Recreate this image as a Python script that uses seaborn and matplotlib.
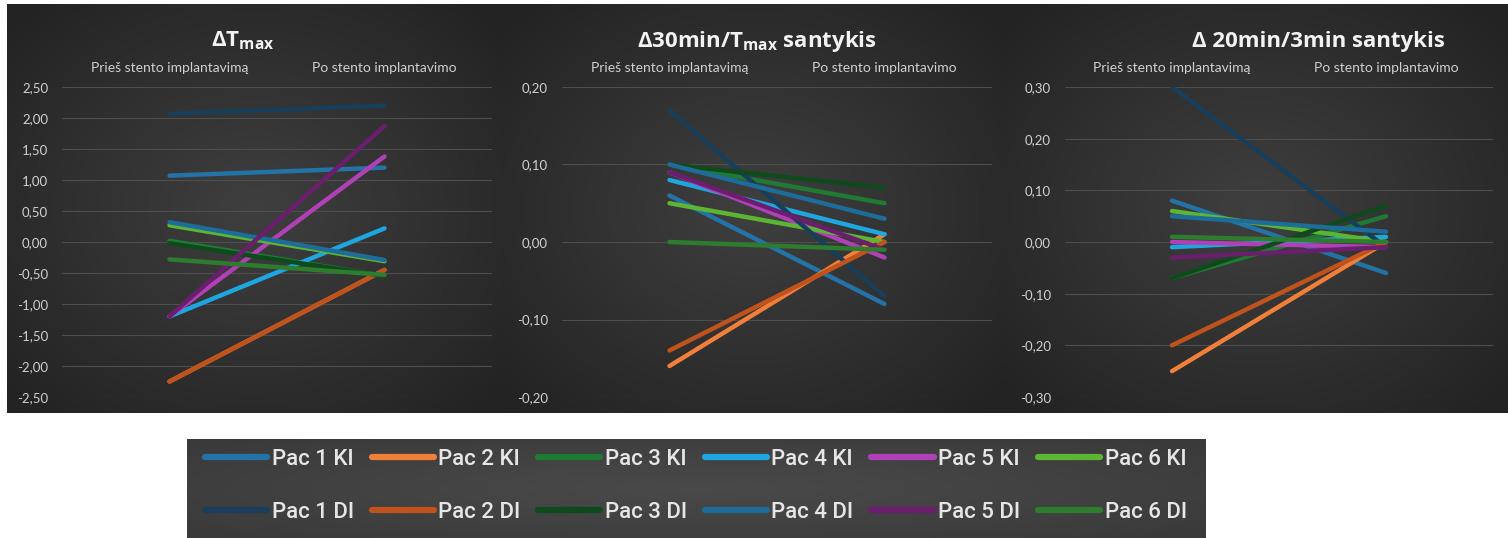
import numpy as np
import pandas as pd
import matplotlib
matplotlib.use("Agg")
import matplotlib.pyplot as plt
import seaborn as sns
from matplotlib.colors import to_rgb
from matplotlib.lines import Line2D
from matplotlib.ticker import FuncFormatter

# categories and series
stages = ["Prieš stento implantavimą", "Po stento implantavimo"]
series = ["Pac 1 KI", "Pac 2 KI", "Pac 3 KI", "Pac 4 KI", "Pac 5 KI", "Pac 6 KI",
          "Pac 1 DI", "Pac 2 DI", "Pac 3 DI", "Pac 4 DI", "Pac 5 DI", "Pac 6 DI"]
colors = ["#2473a6", "#f07f3a", "#1f7a34", "#1ea6e0", "#b040b6", "#5cb533",
          "#173e5a", "#c0521c", "#0f4a1d", "#1d6c9a", "#6b1e6e", "#2e7c2e"]

# values (before, after)
tmax_before = [1.07, -2.25, 0.02, -1.20, -1.20, 0.27, 2.07, -2.25, -0.02, 0.32, -1.20, -0.28]
tmax_after = [1.20, -0.45, -0.55, 0.22, 1.38, -0.31, 2.20, -0.45, -0.55, -0.29, 1.87, -0.53]
r30_before = [0.06, -0.16, 0.10, 0.08, 0.09, 0.05, 0.17, -0.14, 0.10, 0.10, 0.09, 0.00]
r30_after = [-0.08, 0.01, 0.05, 0.01, -0.02, 0.00, -0.07, 0.00, 0.07, 0.03, -0.01, -0.01]
r20_before = [0.08, -0.25, -0.07, -0.01, 0.00, 0.06, 0.30, -0.20, -0.07, 0.05, -0.03, 0.01]
r20_after = [-0.06, 0.00, 0.05, 0.01, -0.01, 0.00, -0.01, 0.00, 0.07, 0.02, -0.01, 0.00]

titles = [r"ΔT$_\mathregular{max}$",
          r"Δ30min/T$_\mathregular{max}$ santykis",
          "Δ 20min/3min santykis"]
y_limits = [2.5, 0.2, 0.3]
y_steps = [0.5, 0.1, 0.1]

W, H = 1508, 538
FONT = ["Lato", "DejaVu Sans"]
TITLE_FONT = ["Open Sans", "DejaVu Sans"]
LEGEND_FONT = ["Roboto", "DejaVu Sans"]


def fig_rect(x0, y0, x1, y1):
    return [x0 / W, 1 - y1 / H, (x1 - x0) / W, (y1 - y0) / H]


def gradient_bg(fig, rect, inner, outer):
    """Radial gradient background like the Excel dark chart style"""
    bg = fig.add_axes(rect, zorder=0)
    yy, xx = np.mgrid[-1:1:200j, -1:1:300j]
    r = np.clip(np.sqrt(xx ** 2 + yy ** 2) / 1.35, 0, 1)[..., None]
    img = np.array(to_rgb(inner)) * (1 - r) + np.array(to_rgb(outer)) * r
    bg.imshow(img, aspect="auto", extent=[0, 1, 0, 1], interpolation="bilinear")
    bg.set_axis_off()
    return bg


def comma_fmt(v, pos):
    if abs(v) < 1e-9:
        v = 0.0
    return f"{v:.2f}".replace(".", ",")


sns.set_theme(style="dark")
plt.rcParams["font.family"] = FONT

fig = plt.figure(figsize=(W / 100, H / 100), dpi=100)
fig.patch.set_facecolor("white")

palette = dict(zip(series, colors))
panel_data = [(tmax_before, tmax_after), (r30_before, r30_after), (r20_before, r20_after)]
bg_spans = [(7, 503), (503, 1003), (1003, 1508)]
ax_spans = [(62, 492), (562, 992), (1065, 1493)]
title_x = [243, 757, 1318]

for i, (before, after) in enumerate(panel_data):
    gradient_bg(fig, fig_rect(bg_spans[i][0], 4, bg_spans[i][1], 413), "#3f3f3f", "#232323")

    df = pd.DataFrame({
        "series": series * 2,
        "pos": [0] * len(series) + [1] * len(series),
        "value": list(before) + list(after),
    })

    ax = fig.add_axes(fig_rect(ax_spans[i][0], 87, ax_spans[i][1], 397), zorder=1)
    ax.set_facecolor("none")
    sns.lineplot(data=df, x="pos", y="value", hue="series", hue_order=series,
                 palette=palette, linewidth=3.2, solid_capstyle="round",
                 errorbar=None, legend=False, ax=ax)

    lim, step = y_limits[i], y_steps[i]
    ax.set_xlim(-0.5, 1.5)
    ax.set_ylim(-lim, lim)
    ax.set_yticks(np.arange(-lim, lim + step / 2, step))
    ax.yaxis.set_major_formatter(FuncFormatter(comma_fmt))
    ax.set_xticks([0, 1])
    ax.set_xticklabels(stages)
    ax.xaxis.tick_top()
    ax.tick_params(axis="x", length=0, pad=9, labelsize=10, labelcolor="#d0d0d0")
    ax.tick_params(axis="y", length=0, pad=10, labelsize=9.5, labelcolor="#d0d0d0")
    ax.set_xlabel("")
    ax.set_ylabel("")
    ax.grid(False)
    ax.yaxis.grid(True, color="#4e4e4e", linewidth=0.8)
    ax.set_axisbelow(True)
    for sp in ax.spines.values():
        sp.set_visible(False)

    fig.text(title_x[i] / W, 1 - 41 / H, titles[i], ha="center", va="center",
             fontsize=16, fontweight="bold", color="#f2f2f2", family=TITLE_FONT)

# legend box underneath
gradient_bg(fig, fig_rect(187, 439, 1206, 538), "#4a4a4a", "#3a3a3a")
handles = []
labels = []
for k in range(6):
    for j in (k, k + 6):
        handles.append(Line2D([], [], color=colors[j], linewidth=4.5, solid_capstyle="round"))
        labels.append(series[j])
leg = fig.legend(handles, labels, ncol=6, loc="upper left",
                 bbox_to_anchor=(205 / W, 1 - 449 / H), frameon=False,
                 borderpad=0, borderaxespad=0, handlelength=2.8, handletextpad=0.2,
                 columnspacing=0.8, labelspacing=1.45,
                 prop={"family": LEGEND_FONT, "size": 16, "weight": "medium"})
for t in leg.get_texts():
    t.set_color("#e6e6e6")
leg.set_zorder(2)

fig.savefig("out.png", dpi=100, facecolor="white")
